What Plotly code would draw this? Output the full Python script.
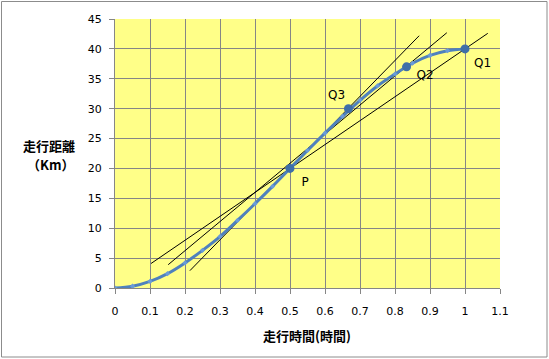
import plotly.graph_objects as go

# Curve data
curve_x = [0, 0.05, 0.1, 0.15, 0.2, 0.25, 0.3, 0.35, 0.4, 0.45, 0.5,
           0.55, 0.6, 0.65, 0.7, 0.75, 0.8, 0.85, 0.9, 0.95, 1.0]
curve_y = [0, 0.3, 1.1, 2.4, 4.2, 6.3, 8.6, 11.3, 14.1, 17.0, 20.0,
           23.0, 25.9, 28.7, 31.4, 33.8, 35.8, 37.6, 38.9, 39.7, 40.0]

# Highlighted points
pt_names = ["P", "Q3", "Q2", "Q1"]
pt_x = [0.5, 0.667, 0.833, 1.0]
pt_y = [20.0, 30.0, 37.0, 40.0]
label_x = [0.543, 0.633, 0.886, 1.05]
label_y = [17.5, 32.2, 35.4, 37.4]

# Secant / tangent lines (endpoints)
line_q1_x = [0.103, 1.065]
line_q1_y = [4.1, 42.6]
line_q2_x = [0.152, 0.948]
line_q2_y = [3.9, 42.7]
line_tan_x = [0.214, 0.869]
line_tan_y = [2.9, 42.2]

x_ticks = [0, 0.1, 0.2, 0.3, 0.4, 0.5, 0.6, 0.7, 0.8, 0.9, 1, 1.1]
x_tick_text = ["0", "0.1", "0.2", "0.3", "0.4", "0.5", "0.6", "0.7", "0.8", "0.9", "1", "1.1"]
y_ticks = [0, 5, 10, 15, 20, 25, 30, 35, 40, 45]

fig = go.Figure()

for lx, ly in [(line_q1_x, line_q1_y), (line_q2_x, line_q2_y), (line_tan_x, line_tan_y)]:
    fig.add_trace(go.Scatter(x=lx, y=ly, mode="lines",
                             line=dict(color="black", width=1), showlegend=False,
                             hoverinfo="skip"))

fig.add_trace(go.Scatter(x=curve_x, y=curve_y, mode="lines+markers",
                         line=dict(color="#4F81BD", width=3, shape="spline"),
                         marker=dict(color="#6A9BD8", size=4, symbol="diamond"),
                         showlegend=False))

fig.add_trace(go.Scatter(x=pt_x, y=pt_y, mode="markers",
                         marker=dict(color="#3F6FA8", size=9),
                         showlegend=False))

fig.add_trace(go.Scatter(x=label_x, y=label_y, mode="text", text=pt_names,
                         textfont=dict(family="DejaVu Sans, Arial", size=12, color="black"),
                         showlegend=False))

grid_c = "#868686"
fig.update_xaxes(range=[0, 1.1], tickvals=x_ticks, ticktext=x_tick_text,
                 showgrid=True, gridcolor=grid_c, gridwidth=1,
                 showline=True, linecolor=grid_c, ticks="outside", tickcolor=grid_c,
                 ticklen=5, zeroline=False, ticklabelstandoff=8,
                 tickfont=dict(family="DejaVu Sans, Arial", size=11, color="black"))
fig.update_yaxes(range=[0, 45], tickvals=y_ticks,
                 showgrid=True, gridcolor=grid_c, gridwidth=1,
                 showline=True, linecolor=grid_c, ticks="outside", tickcolor=grid_c,
                 ticklen=5, zeroline=False, ticklabelstandoff=5,
                 tickfont=dict(family="DejaVu Sans, Arial", size=11, color="black"))

L, R, T, B = 115, 49, 19, 71
W, H = 549, 359
pw, ph = W - L - R, H - T - B

def px2paper_x(px):
    return (px - L) / pw

def px2paper_y(py):
    return (H - B - py) / ph

fig.add_shape(type="rect", xref="paper", yref="paper",
              x0=px2paper_x(1.5), x1=px2paper_x(547), y0=px2paper_y(357), y1=px2paper_y(1.5),
              line=dict(color="#8C8C8C", width=1), fillcolor="rgba(0,0,0,0)", layer="below")

jp = "Noto Sans CJK JP"
fig.add_annotation(text="<b>走行距離</b>", xref="paper", yref="paper",
                   x=px2paper_x(49), y=px2paper_y(145), showarrow=False,
                   xanchor="center", yanchor="middle",
                   font=dict(family=jp, size=13, color="black"))
fig.add_annotation(text="<b>（Km）</b>", xref="paper", yref="paper",
                   x=px2paper_x(50), y=px2paper_y(164), showarrow=False,
                   xanchor="center", yanchor="middle",
                   font=dict(family=jp, size=13, color="black"))
fig.add_annotation(text="<b>走行時間(時間)</b>", xref="paper", yref="paper",
                   x=px2paper_x(307), y=px2paper_y(335), showarrow=False,
                   xanchor="center", yanchor="middle",
                   font=dict(family=jp, size=13, color="black"))

fig.update_layout(width=W, height=H, margin=dict(l=L, r=R, t=T, b=B),
                  plot_bgcolor="#FFFF88", paper_bgcolor="white")

fig.write_html("out.html", config={"displayModeBar": False},
               post_script="document.body.style.margin='0';document.body.style.overflow='hidden';")
